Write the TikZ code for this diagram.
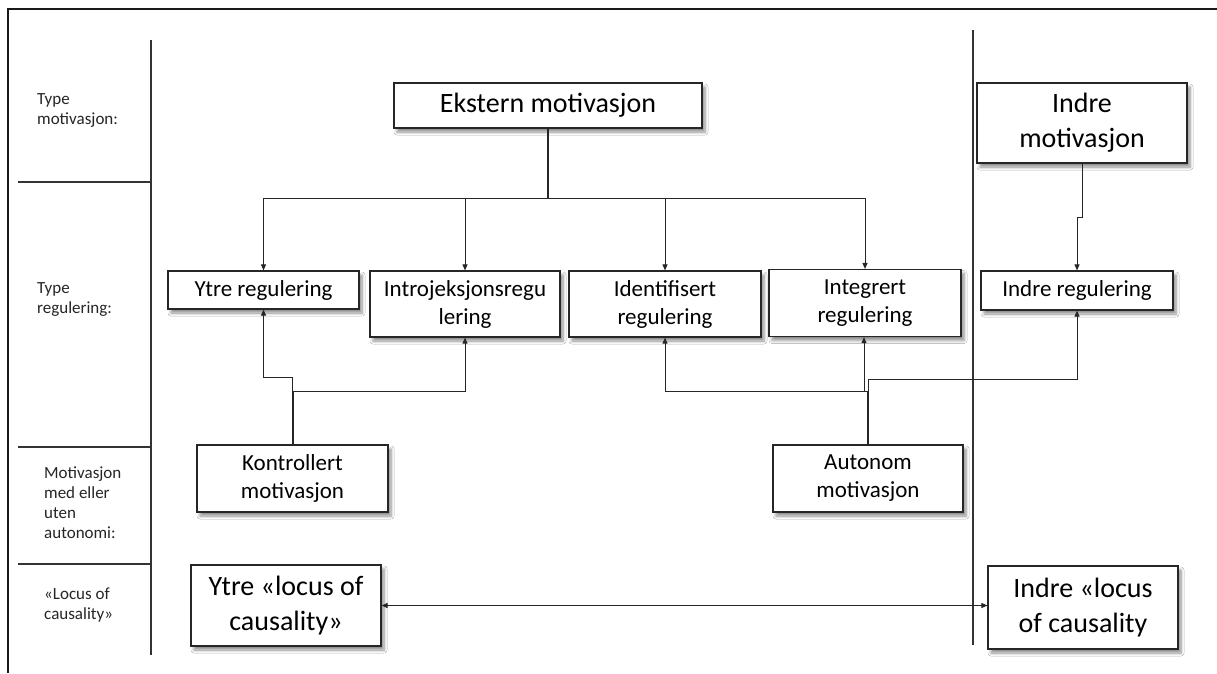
\documentclass[tikz,border=0pt]{standalone}
\usepackage{fontspec}
\setmainfont{Carlito}
\usetikzlibrary{arrows.meta,shadows.blur}
\begin{document}
\begin{tikzpicture}[x=1pt,y=-1pt,
  box/.style={draw=black!85, line width=1.2pt, fill=white, align=center, inner sep=0pt,
    blur shadow={shadow xshift=3pt, shadow yshift=-4pt, shadow blur radius=3pt, shadow blur steps=6, shadow opacity=45}},
  big/.style={box, font=\fontsize{28}{35}\selectfont},
  mid/.style={box, font=\fontsize{23}{28}\selectfont},
  lbl/.style={anchor=north west, align=left, inner sep=0pt, font=\fontsize{17}{20}\selectfont, text=black!85},
  arr/.style={line width=1pt, draw=black!85, -{Triangle[length=6pt,width=5pt]}},
  dbl/.style={line width=1pt, draw=black!85, {Triangle[length=6pt,width=5pt]}-{Triangle[length=6pt,width=5pt]}},
  stem/.style={line width=2pt, draw=black!85},
  rule/.style={line width=1.2pt, draw=black!80},
]
\useasboundingbox (0,0) rectangle (1217,673);
\fill[white] (0,0) rectangle (1217,673);

% frame and column rules
\draw[line width=2pt, draw=black!90] (8,673) -- (8,9) -- (1217,9);
\draw[rule] (151,40) -- (151,655);
\draw[rule] (18,182) -- (151,182);
\draw[rule] (18,447) -- (151,447);
\draw[rule] (18,564) -- (151,564);
\draw[rule] (973,30) -- (973,645);

% row labels
\node[lbl] (l1) at (37,93) {Type\\motivasjon:};
\node[lbl] (l2) at (37,282) {Type\\regulering:};
\node[lbl] (l3) at (44,467) {Motivasjon\\med eller\\uten\\autonomi:};
\node[lbl] (l4) at (44,588) {«Locus of\\causality»};

% boxes
\node[big, minimum width=308pt, minimum height=45pt] (ekstern) at (548,105.5) {Ekstern motivasjon};
\node[big, minimum width=210pt, minimum height=80pt] (indremot) at (1082,123) {Indre\\motivasjon};
\node[mid, minimum width=191pt, minimum height=38pt] (ytrereg) at (263.5,290) {Ytre regulering};
\node[mid, minimum width=190pt, minimum height=66pt] (introj) at (465,304) {Introjeksjonsregu\\lering};
\node[mid, minimum width=192pt, minimum height=66pt] (ident) at (665,304) {Identifisert\\regulering};
\node[mid, minimum width=192pt, minimum height=67pt] (integ) at (865,303) {Integrert\\regulering};
\node[mid, minimum width=192pt, minimum height=39pt] (indrereg) at (1077,290.5) {Indre regulering};
\node[mid, minimum width=191pt, minimum height=67pt] (kontr) at (292.5,478.5) {Kontrollert\\motivasjon};
\node[mid, minimum width=190pt, minimum height=67pt] (auton) at (868,478.5) {Autonom\\motivasjon};
\node[big, minimum width=190pt, minimum height=81pt] (ytreloc) at (286,605.5) {Ytre «locus of\\causality»};
\node[big, minimum width=190pt, minimum height=83pt] (indreloc) at (1083,607.5) {Indre «locus\\of causality};

% Ekstern motivasjon -> regulations
\coordinate (hub) at (548,198);
\draw[stem] (ekstern.south) -- (hub);
\draw[arr] (hub) -| (ytrereg.north);
\draw[arr] (hub) -| (introj.north);
\draw[arr] (hub) -| (ident.north);
\draw[arr] (hub) -| (integ.north);

% Indre motivasjon -> Indre regulering
\draw[arr] (indremot.south) -- ++(0,54) -| (indrereg.north);

% Kontrollert motivasjon
\coordinate (k1) at (292.5,391);
\coordinate (k2) at (292.5,377);
\draw[stem] (kontr.north) -- (k1);
\draw[arr] (k1) -| (introj.south);
\draw[arr] (k1) -- (k2) -| (ytrereg.south);

% Autonom motivasjon
\coordinate (a1) at (868,391);
\coordinate (a2) at (868,379);
\coordinate (a3) at (864,391);
\draw[stem] (auton.north) -- (a1);
\draw[arr] (a1) -| (ident.south);
\draw[arr] (a3) -- (a3 |- integ.south);
\draw[arr] (a1) -- (a2) -| (indrereg.south);

% locus of causality
\draw[dbl] (ytreloc.east) -- (ytreloc.east -| indreloc.west);
\end{tikzpicture}
\end{document}
